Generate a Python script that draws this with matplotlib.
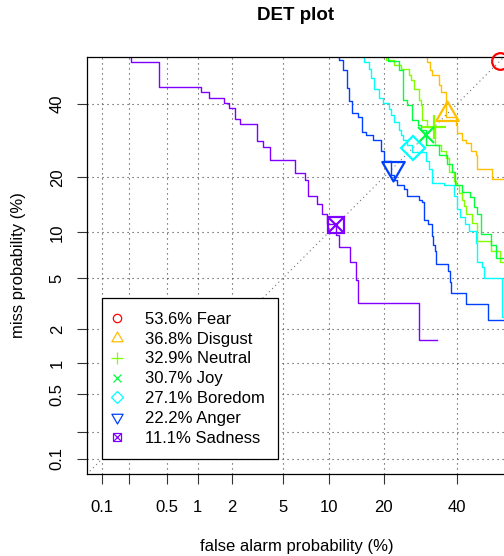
import numpy as np
import matplotlib
matplotlib.use('Agg')
import matplotlib.pyplot as plt
from matplotlib.lines import Line2D
from matplotlib.path import Path
from matplotlib.legend_handler import HandlerTuple
from statistics import NormalDist

plt.rcParams['font.family'] = ['Liberation Sans', 'DejaVu Sans']

# ---------------- data (percent) ----------------
classes = ['Fear', 'Disgust', 'Neutral', 'Joy', 'Boredom', 'Anger', 'Sadness']
eer = [53.6, 36.8, 32.9, 30.7, 27.1, 22.2, 11.1]
colors = ['#FF0000', '#FFBF00', '#80FF00', '#00FF40', '#00FFFF', '#0040FF', '#8000FF']

# step curves: (false alarm %, miss %) corner points, drawn vertical-then-horizontal
disgust_fa = [31.1, 31.8, 32.3, 34.5, 35.0, 36.5, 39.5, 40.0, 41.5, 42.6, 44.2, 45.8, 46.3, 51.0, 70]
disgust_miss = [80, 53.3, 50.7, 49.1, 45.9, 43.6, 36.0, 33.6, 31.2, 29.4, 28.5, 26.3, 25.4, 21.8, 19.6]

neutral_fa = [20.6, 22.4, 24.1, 26.2, 26.7, 27.5, 28.8, 29.3, 29.7, 31.0, 33.3, 35.0, 36.5, 37.5, 39.0,
              39.5, 40.5, 41.3, 42.1, 42.8, 44.7, 46.3, 50.5, 53.4, 70]
neutral_miss = [80, 53.8, 52.2, 51.0, 49.1, 47.5, 44.6, 41.2, 39.6, 35.1, 33.0, 28.1, 26.3, 24.6, 21.3,
                19.1, 18.4, 16.6, 15.4, 14.2, 12.9, 11.4, 8.8, 7.6, 6.45]

joy_fa = [20.9, 23.7, 24.5, 25.7, 27.0, 28.4, 29.3, 30.7, 34.5, 37.0, 38.5, 39.3, 41.3, 43.9, 45.2,
          46.1, 47.4, 50.7, 52.3, 70]
joy_miss = [80, 53.5, 50.7, 41.2, 39.6, 35.1, 33.7, 32.2, 28.1, 25.4, 23.0, 21.1, 18.4, 16.9, 15.8,
            14.1, 12.9, 9.8, 8.3, 6.9]

boredom_fa = [15.8, 16.9, 17.3, 18.0, 19.0, 19.9, 21.3, 21.7, 22.4, 23.7, 24.1, 24.7, 25.7, 27.0, 30.7,
              31.6, 32.4, 36.0, 39.0, 40.0, 40.7, 42.4, 43.7, 45.8, 46.3, 47.9, 48.5, 54.2, 70]
boredom_miss = [80, 53.3, 51.0, 48.0, 44.6, 41.7, 40.2, 38.3, 36.6, 34.6, 32.2, 30.8, 29.4, 28.1, 26.2,
                23.8, 21.8, 18.7, 18.4, 16.0, 13.6, 12.4, 11.2, 10.2, 8.6, 6.45, 6.0, 5.0, 2.5]

anger_fa = [11.5, 12.2, 12.8, 13.2, 13.7, 14.7, 15.5, 16.3, 17.6, 19.4, 20.1, 21.7, 22.4, 23.2, 24.9,
            25.7, 28.8, 29.7, 30.2, 31.4, 32.3, 32.8, 33.3, 33.7, 37.2, 37.7, 38.2, 42.8, 49.8, 70]
anger_miss = [80, 53.8, 50.7, 44.9, 40.7, 37.1, 36.0, 31.7, 30.8, 29.4, 26.3, 23.8, 20.6, 19.5, 18.4,
              17.4, 16.0, 15.4, 14.9, 11.9, 11.2, 9.5, 8.4, 7.6, 6.3, 5.6, 4.7, 3.9, 3.2, 2.4]

sadness_fa = [0.21, 0.42, 1.06, 1.26, 1.70, 1.89, 2.11, 2.32, 3.18, 3.58, 4.02, 6.10, 7.12, 7.38, 8.52,
              9.12, 9.78, 11.1, 11.5, 13.3, 14.4, 14.7, 28.8, 34.0]
sadness_miss = [80, 53.2, 45.2, 43.5, 41.9, 40.3, 38.7, 35.5, 33.9, 29.0, 27.4, 24.2, 21.0, 19.4, 16.1,
                14.5, 12.9, 11.3, 9.68, 8.06, 6.45, 4.84, 3.23, 1.61]

tick_vals = [0.1, 0.2, 0.5, 1, 2, 5, 10, 20, 40]
tick_labels = ['0.1', '', '0.5', '1', '2', '5', '10', '20', '40']

curves = {
    'Disgust': (disgust_fa, disgust_miss),
    'Neutral': (neutral_fa, neutral_miss),
    'Joy': (joy_fa, joy_miss),
    'Boredom': (boredom_fa, boredom_miss),
    'Anger': (anger_fa, anger_miss),
    'Sadness': (sadness_fa, sadness_miss),
}

# ---------------- probit scale ----------------
_nd = NormalDist()
_ppf = np.vectorize(_nd.inv_cdf, otypes=[float])
_cdf = np.vectorize(_nd.cdf, otypes=[float])


def probit(p):
    p = np.clip(np.asarray(p, dtype=float) / 100.0, 1e-9, 1 - 1e-9)
    return _ppf(p)


def inv_probit(z):
    return _cdf(np.asarray(z, dtype=float)) * 100.0


# marker shapes (R pch-like)
tri_up = Path([(0, 1.555), (1.347, -0.778), (-1.347, -0.778), (0, 1.555)],
              [Path.MOVETO, Path.LINETO, Path.LINETO, Path.CLOSEPOLY])
tri_dn = Path([(0, -1.555), (1.347, 0.778), (-1.347, 0.778), (0, -1.555)],
              [Path.MOVETO, Path.LINETO, Path.LINETO, Path.CLOSEPOLY])
mk_specs = {
    'Fear': [('o', 1.0)],
    'Disgust': [(tri_up, 1.555)],
    'Neutral': [('+', 1.414)],
    'Joy': [('x', 1.0)],
    'Boredom': [('D', 1.0)],
    'Anger': [(tri_dn, 1.555)],
    'Sadness': [('s', 1.0), ('x', 1.0)],
}

W, H = 504, 556
fig = plt.figure(figsize=(W / 100, H / 100), dpi=100)
ax = fig.add_axes([86.7 / W, 1 - 474.3 / H, 417.8 / W, 417.8 / H])
ax.set_xscale('function', functions=(probit, inv_probit))
ax.set_yscale('function', functions=(probit, inv_probit))
z_lo, z_hi = float(probit(0.1)), float(probit(50))
ext = 0.04 * (z_hi - z_lo)
lo, hi = float(inv_probit(z_lo - ext)), float(inv_probit(z_hi + ext))
ax.set_xlim(lo, hi)
ax.set_ylim(lo, hi)

ax.set_xticks(tick_vals, tick_labels)
ax.set_yticks(tick_vals, tick_labels)
ax.xaxis.set_minor_locator(matplotlib.ticker.NullLocator())
ax.yaxis.set_minor_locator(matplotlib.ticker.NullLocator())
ax.grid(True, ls=(0, (1, 3.5)), color='0.25', lw=0.8)
ax.set_axisbelow(True)
ax.tick_params(axis='both', length=7.5, width=0.8, labelsize=12, color='0.2')
ax.tick_params(axis='x', pad=11)
ax.tick_params(axis='y', pad=8.3, labelrotation=90)
for lbl in ax.get_yticklabels():
    lbl.set_va('center')
for sp in ax.spines.values():
    sp.set_linewidth(0.9)

# diagonal
ax.plot([lo, hi], [lo, hi], ls=(0, (1, 3)), color='0.45', lw=0.8, zorder=1.5)

for name, col in zip(classes, colors):
    if name in curves:
        fa, miss = curves[name]
        ax.plot(fa, miss, drawstyle='steps-pre', color=col, lw=1.0, zorder=2)

base = 12
for name, col, e in zip(classes, colors, eer):
    for mk, f in mk_specs[name]:
        ax.plot([e], [e], ls='none', marker=mk, ms=base * f, mfc='none', mec=col,
                mew=1.6, clip_on=False, zorder=3)

# legend
handles, labels = [], []
for name, col, e in zip(classes, colors, eer):
    hs = [Line2D([], [], ls='none', marker=mk, ms=6 * f, mfc='none', mec=col, mew=0.9)
          for mk, f in mk_specs[name]]
    handles.append(tuple(hs) if len(hs) > 1 else hs[0])
    labels.append(f'{e:.1f}% {name}')
leg = ax.legend(handles, labels, loc='upper left',
                bbox_to_anchor=((102.3 - 86.7) / 417.8, (474.3 - 298.3) / 417.8),
                borderaxespad=0, fontsize=12, frameon=True, fancybox=False,
                edgecolor='black', framealpha=1, handlelength=0.2, handletextpad=1.56,
                borderpad=0.8, labelspacing=0.295,
                handler_map={tuple: HandlerTuple(ndivide=1)})
leg.get_frame().set_linewidth(0.9)
leg.set_zorder(5)

fig.text(296 / W, 1 - 15 / H, 'DET plot', ha='center', va='center', fontsize=13.5, fontweight='bold')
fig.text(296.5 / W, 1 - 547 / H, 'false alarm probability (%)', ha='center', va='center', fontsize=12)
fig.text(19 / W, 1 - 265.4 / H, 'miss probability (%)', ha='center', va='center', fontsize=12,
         rotation=90)

fig.savefig('out.png', dpi=100)
